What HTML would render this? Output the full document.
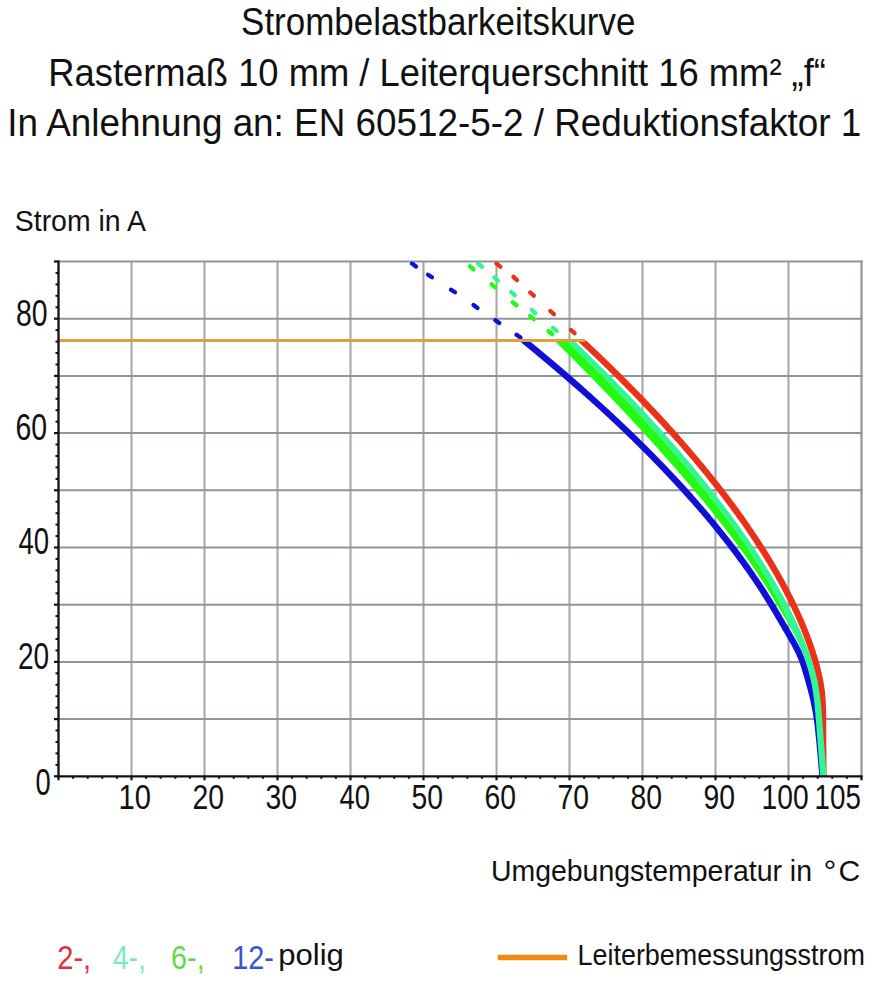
<!DOCTYPE html>
<html><head><meta charset="utf-8"><style>html,body{margin:0;padding:0;background:#fff;width:894px;height:1000px;overflow:hidden}svg{display:block}</style></head>
<body><svg width="894" height="1000" viewBox="0 0 894 1000">
<defs><clipPath id="plot2"><rect x="58.5" y="340.6" width="803.0" height="435.7"/></clipPath><clipPath id="plot"><rect x="58.5" y="261.5" width="803.0" height="514.8"/></clipPath></defs>
<rect width="894" height="1000" fill="#fff"/>
<line x1="131.5" y1="261.5" x2="131.5" y2="776.3" stroke="#a2a6a6" stroke-width="2"/><line x1="204.5" y1="261.5" x2="204.5" y2="776.3" stroke="#a2a6a6" stroke-width="2"/><line x1="277.5" y1="261.5" x2="277.5" y2="776.3" stroke="#a2a6a6" stroke-width="2"/><line x1="350.5" y1="261.5" x2="350.5" y2="776.3" stroke="#a2a6a6" stroke-width="2"/><line x1="423.5" y1="261.5" x2="423.5" y2="776.3" stroke="#a2a6a6" stroke-width="2"/><line x1="496.5" y1="261.5" x2="496.5" y2="776.3" stroke="#a2a6a6" stroke-width="2"/><line x1="569.5" y1="261.5" x2="569.5" y2="776.3" stroke="#a2a6a6" stroke-width="2"/><line x1="642.5" y1="261.5" x2="642.5" y2="776.3" stroke="#a2a6a6" stroke-width="2"/><line x1="715.5" y1="261.5" x2="715.5" y2="776.3" stroke="#a2a6a6" stroke-width="2"/><line x1="788.5" y1="261.5" x2="788.5" y2="776.3" stroke="#a2a6a6" stroke-width="2"/><line x1="861.5" y1="260.5" x2="861.5" y2="777.3" stroke="#8f9696" stroke-width="2.2"/><line x1="58.5" y1="719.1" x2="862.5" y2="719.1" stroke="#8f9696" stroke-width="2"/><line x1="58.5" y1="661.9" x2="862.5" y2="661.9" stroke="#8f9696" stroke-width="2"/><line x1="58.5" y1="604.7" x2="862.5" y2="604.7" stroke="#8f9696" stroke-width="2"/><line x1="58.5" y1="547.5" x2="862.5" y2="547.5" stroke="#8f9696" stroke-width="2"/><line x1="58.5" y1="490.3" x2="862.5" y2="490.3" stroke="#8f9696" stroke-width="2"/><line x1="58.5" y1="433.1" x2="862.5" y2="433.1" stroke="#8f9696" stroke-width="2"/><line x1="58.5" y1="375.9" x2="862.5" y2="375.9" stroke="#8f9696" stroke-width="2"/><line x1="58.5" y1="318.7" x2="862.5" y2="318.7" stroke="#8f9696" stroke-width="2"/><line x1="58.5" y1="261.5" x2="862.5" y2="261.5" stroke="#8f9696" stroke-width="2"/><g clip-path="url(#plot)"><line x1="412.0" y1="263.6" x2="416.0" y2="266.4" stroke="#0f0fd7" stroke-width="4.3" stroke-linecap="round"/><line x1="428.0" y1="274.7" x2="432.0" y2="277.3" stroke="#0f0fd7" stroke-width="4.3" stroke-linecap="round"/><line x1="451.0" y1="289.7" x2="455.0" y2="292.3" stroke="#0f0fd7" stroke-width="4.3" stroke-linecap="round"/><line x1="473.5" y1="305.1" x2="477.5" y2="307.9" stroke="#0f0fd7" stroke-width="4.3" stroke-linecap="round"/><line x1="495.3" y1="320.2" x2="499.3" y2="323.0" stroke="#0f0fd7" stroke-width="4.3" stroke-linecap="round"/><line x1="516.5" y1="334.7" x2="520.5" y2="337.5" stroke="#0f0fd7" stroke-width="4.3" stroke-linecap="round"/><line x1="470.0" y1="266.4" x2="473.6" y2="269.4" stroke="#23fa14" stroke-width="4.3" stroke-linecap="round"/><line x1="491.6" y1="284.3" x2="495.2" y2="287.3" stroke="#23fa14" stroke-width="4.3" stroke-linecap="round"/><line x1="512.7" y1="302.2" x2="516.5" y2="305.2" stroke="#23fa14" stroke-width="4.3" stroke-linecap="round"/><line x1="530.1" y1="316.1" x2="533.9" y2="319.1" stroke="#23fa14" stroke-width="4.3" stroke-linecap="round"/><line x1="548.5" y1="331.2" x2="552.3" y2="334.2" stroke="#23fa14" stroke-width="4.3" stroke-linecap="round"/><line x1="478.2" y1="263.5" x2="481.8" y2="266.7" stroke="#32f596" stroke-width="4.3" stroke-linecap="round"/><line x1="494.4" y1="277.4" x2="498.0" y2="280.6" stroke="#32f596" stroke-width="4.3" stroke-linecap="round"/><line x1="511.2" y1="292.0" x2="514.8" y2="295.2" stroke="#32f596" stroke-width="4.3" stroke-linecap="round"/><line x1="531.8" y1="309.9" x2="535.4" y2="313.1" stroke="#32f596" stroke-width="4.3" stroke-linecap="round"/><line x1="553.1" y1="327.9" x2="556.7" y2="330.9" stroke="#32f596" stroke-width="4.3" stroke-linecap="round"/><line x1="496.5" y1="263.6" x2="500.3" y2="266.6" stroke="#eb3219" stroke-width="4.3" stroke-linecap="round"/><line x1="513.4" y1="276.9" x2="517.0" y2="280.1" stroke="#eb3219" stroke-width="4.3" stroke-linecap="round"/><line x1="530.2" y1="292.5" x2="533.8" y2="295.7" stroke="#eb3219" stroke-width="4.3" stroke-linecap="round"/><line x1="550.3" y1="311.0" x2="553.9" y2="314.2" stroke="#eb3219" stroke-width="4.3" stroke-linecap="round"/><line x1="571.0" y1="330.0" x2="574.6" y2="333.2" stroke="#eb3219" stroke-width="4.3" stroke-linecap="round"/></g><g clip-path="url(#plot2)"><path d="M515.8,334.0 L518.2,336.0 L520.7,338.0 L523.2,340.0 L525.7,342.0 L528.1,344.0 L530.5,346.0 L533.0,348.0 L535.4,350.0 L537.8,352.0 L540.2,354.0 L542.6,356.0 L545.0,358.0 L547.4,360.0 L549.8,362.0 L552.2,364.0 L554.5,366.0 L556.9,368.0 L559.2,370.0 L561.6,372.0 L563.9,374.0 L566.2,376.0 L568.5,378.0 L570.8,380.0 L573.1,382.0 L575.4,384.0 L577.7,386.0 L580.0,388.0 L582.2,390.0 L584.5,392.0 L586.7,394.0 L589.0,396.0 L591.2,398.0 L593.4,400.0 L595.6,402.0 L597.8,404.0 L600.0,406.0 L602.2,408.0 L604.4,410.0 L606.6,412.0 L608.7,414.0 L610.9,416.0 L613.0,418.0 L615.1,420.0 L617.3,422.0 L619.4,424.0 L621.5,426.0 L623.6,428.0 L625.7,430.0 L627.8,432.0 L629.8,434.0 L631.9,436.0 L634.0,438.0 L636.0,440.0 L638.0,442.0 L640.1,444.0 L642.1,446.0 L644.1,448.0 L646.1,450.0 L648.1,452.0 L650.1,454.0 L652.1,456.0 L654.0,458.0 L656.0,460.0 L657.9,462.0 L659.9,464.0 L661.8,466.0 L663.7,468.0 L665.6,470.0 L667.5,472.0 L669.4,474.0 L671.3,476.0 L673.2,478.0 L675.0,480.0 L676.9,482.0 L678.7,484.0 L680.6,486.0 L682.4,488.0 L684.2,490.0 L686.0,492.0 L687.8,494.0 L689.6,496.0 L691.4,498.0 L693.2,500.0 L694.9,502.0 L696.7,504.0 L698.4,506.0 L700.1,508.0 L701.9,510.0 L703.6,512.0 L705.3,514.0 L707.0,516.0 L708.6,518.0 L710.3,520.0 L712.0,522.0 L713.6,524.0 L715.3,526.0 L716.9,528.0 L718.5,530.0 L720.1,532.0 L721.7,534.0 L723.3,536.0 L724.9,538.0 L726.5,540.0 L728.0,542.0 L729.6,544.0 L731.1,546.0 L732.7,548.0 L734.2,550.0 L735.7,552.0 L737.2,554.0 L738.7,556.0 L740.1,558.0 L741.6,560.0 L743.1,562.0 L744.5,564.0 L745.9,566.0 L747.4,568.0 L748.8,570.0 L750.2,572.0 L751.6,574.0 L752.9,576.0 L754.3,578.0 L755.7,580.0 L757.0,582.0 L758.4,584.0 L759.7,586.0 L761.0,588.0 L762.3,590.0 L763.6,592.0 L764.9,594.0 L766.1,596.0 L767.4,598.0 L768.6,600.0 L769.9,602.0 L771.1,604.0 L772.3,606.0 L773.5,608.0 L774.7,610.0 L775.9,612.0 L777.0,614.0 L778.2,616.0 L779.4,618.0 L780.5,620.0 L781.7,622.0 L782.9,624.0 L784.0,626.0 L785.2,628.0 L786.4,630.0 L787.5,632.0 L788.7,634.0 L789.9,636.0 L791.0,638.0 L792.2,640.0 L793.3,642.0 L794.4,644.0 L795.5,646.0 L796.5,648.0 L797.6,650.0 L798.5,652.0 L799.5,654.0 L800.3,656.0 L801.2,658.0 L802.0,660.0 L802.7,662.0 L803.4,664.0 L804.1,666.0 L804.7,668.0 L805.3,670.0 L805.9,672.0 L806.5,674.0 L807.1,676.0 L807.7,678.0 L808.2,680.0 L808.8,682.0 L809.3,684.0 L809.9,686.0 L810.4,688.0 L811.0,690.0 L811.5,692.0 L812.0,694.0 L812.5,696.0 L813.0,698.0 L813.5,700.0 L813.9,702.0 L814.3,704.0 L814.7,706.0 L815.1,708.0 L815.5,710.0 L815.9,712.0 L816.2,714.0 L816.5,716.0 L816.8,718.0 L817.1,720.0 L817.4,722.0 L817.6,724.0 L817.9,726.0 L818.1,728.0 L818.3,730.0 L818.5,732.0 L818.7,734.0 L818.9,736.0 L819.1,738.0 L819.3,740.0 L819.5,742.0 L819.7,744.0 L819.9,746.0 L820.0,748.0 L820.2,750.0 L820.4,752.0 L820.6,754.0 L820.7,756.0 L820.9,758.0 L821.1,760.0 L821.3,762.0 L821.4,764.0 L821.6,766.0 L821.8,768.0 L822.0,770.0 L822.1,772.0 L822.3,774.0 L822.5,776.0 L822.7,778.0 L822.8,780.0" fill="none" stroke="#0f0fd7" stroke-width="6.4"/><path d="M574.5,334.0 L576.7,336.0 L578.9,338.0 L581.0,340.0 L583.2,342.0 L585.3,344.0 L587.4,346.0 L589.5,348.0 L591.7,350.0 L593.8,352.0 L595.9,354.0 L598.0,356.0 L600.0,358.0 L602.1,360.0 L604.2,362.0 L606.3,364.0 L608.3,366.0 L610.4,368.0 L612.4,370.0 L614.4,372.0 L616.5,374.0 L618.5,376.0 L620.5,378.0 L622.5,380.0 L624.5,382.0 L626.5,384.0 L628.4,386.0 L630.4,388.0 L632.4,390.0 L634.3,392.0 L636.3,394.0 L638.2,396.0 L640.2,398.0 L642.1,400.0 L644.0,402.0 L645.9,404.0 L647.8,406.0 L649.7,408.0 L651.6,410.0 L653.5,412.0 L655.4,414.0 L657.2,416.0 L659.1,418.0 L660.9,420.0 L662.8,422.0 L664.6,424.0 L666.4,426.0 L668.2,428.0 L670.0,430.0 L671.8,432.0 L673.6,434.0 L675.4,436.0 L677.2,438.0 L679.0,440.0 L680.7,442.0 L682.5,444.0 L684.2,446.0 L685.9,448.0 L687.7,450.0 L689.4,452.0 L691.1,454.0 L692.8,456.0 L694.5,458.0 L696.2,460.0 L697.8,462.0 L699.5,464.0 L701.2,466.0 L702.8,468.0 L704.4,470.0 L706.1,472.0 L707.7,474.0 L709.3,476.0 L710.9,478.0 L712.5,480.0 L714.1,482.0 L715.7,484.0 L717.3,486.0 L718.8,488.0 L720.4,490.0 L721.9,492.0 L723.4,494.0 L725.0,496.0 L726.5,498.0 L728.0,500.0 L729.5,502.0 L731.0,504.0 L732.5,506.0 L733.9,508.0 L735.4,510.0 L736.9,512.0 L738.3,514.0 L739.7,516.0 L741.2,518.0 L742.6,520.0 L744.0,522.0 L745.4,524.0 L746.8,526.0 L748.1,528.0 L749.5,530.0 L750.9,532.0 L752.2,534.0 L753.6,536.0 L754.9,538.0 L756.2,540.0 L757.5,542.0 L758.8,544.0 L760.1,546.0 L761.4,548.0 L762.6,550.0 L763.9,552.0 L765.2,554.0 L766.4,556.0 L767.6,558.0 L768.8,560.0 L770.1,562.0 L771.3,564.0 L772.4,566.0 L773.6,568.0 L774.8,570.0 L775.9,572.0 L777.1,574.0 L778.2,576.0 L779.3,578.0 L780.4,580.0 L781.6,582.0 L782.6,584.0 L783.7,586.0 L784.8,588.0 L785.8,590.0 L786.9,592.0 L787.9,594.0 L788.9,596.0 L790.0,598.0 L791.0,600.0 L791.9,602.0 L792.9,604.0 L793.9,606.0 L794.8,608.0 L795.8,610.0 L796.7,612.0 L797.6,614.0 L798.5,616.0 L799.4,618.0 L800.3,620.0 L801.2,622.0 L802.0,624.0 L802.8,626.0 L803.7,628.0 L804.5,630.0 L805.3,632.0 L806.1,634.0 L806.8,636.0 L807.6,638.0 L808.3,640.0 L809.1,642.0 L809.8,644.0 L810.5,646.0 L811.2,648.0 L811.8,650.0 L812.5,652.0 L813.1,654.0 L813.8,656.0 L814.4,658.0 L815.0,660.0 L815.5,662.0 L816.1,664.0 L816.6,666.0 L817.2,668.0 L817.7,670.0 L818.1,672.0 L818.6,674.0 L819.0,676.0 L819.5,678.0 L819.9,680.0 L820.2,682.0 L820.6,684.0 L820.9,686.0 L821.2,688.0 L821.5,690.0 L821.7,692.0 L822.0,694.0 L822.2,696.0 L822.3,698.0 L822.5,700.0 L822.6,702.0 L822.7,704.0 L822.7,706.0 L822.8,708.0 L822.9,710.0 L822.9,712.0 L822.9,714.0 L823.0,716.0 L823.0,718.0 L823.0,720.0 L823.0,722.0 L823.0,724.0 L823.0,726.0 L823.0,728.0 L823.1,730.0 L823.1,732.0 L823.1,734.0 L823.1,736.0 L823.1,738.0 L823.1,740.0 L823.1,742.0 L823.1,744.0 L823.1,746.0 L823.2,748.0 L823.2,750.0 L823.2,752.0 L823.2,754.0 L823.2,756.0 L823.2,758.0 L823.2,760.0 L823.2,762.0 L823.2,764.0 L823.3,766.0 L823.3,768.0 L823.3,770.0 L823.3,772.0 L823.3,774.0 L823.3,776.0 L823.3,778.0 L823.3,780.0" fill="none" stroke="#eb3219" stroke-width="6.4"/><path d="M547.7,334 L548.7,335 L549.8,336 L550.8,337 L551.8,338 L552.8,339 L553.8,340 L554.8,341 L555.8,342 L556.8,343 L557.9,344 L558.9,345 L559.9,346 L560.9,347 L561.9,348 L562.9,349 L563.9,350 L564.9,351 L565.9,352 L566.9,353 L567.9,354 L568.9,355 L569.9,356 L570.9,357 L571.9,358 L572.9,359 L573.9,360 L574.9,361 L575.9,362 L576.9,363 L577.8,364 L578.8,365 L579.8,366 L580.8,367 L581.8,368 L582.8,369 L583.8,370 L584.8,371 L585.7,372 L586.7,373 L587.7,374 L588.7,375 L589.7,376 L590.6,377 L591.6,378 L592.6,379 L593.6,380 L594.5,381 L595.5,382 L596.5,383 L597.5,384 L598.4,385 L599.4,386 L600.4,387 L601.3,388 L602.3,389 L603.3,390 L604.2,391 L605.2,392 L606.1,393 L607.1,394 L608.1,395 L609.0,396 L610.0,397 L610.9,398 L611.9,399 L612.8,400 L613.8,401 L614.7,402 L615.7,403 L616.7,404 L617.6,405 L618.5,406 L619.5,407 L620.4,408 L621.4,409 L622.3,410 L623.3,411 L624.2,412 L625.2,413 L626.1,414 L627.0,415 L628.0,416 L628.9,417 L629.8,418 L630.8,419 L631.7,420 L632.6,421 L633.6,422 L634.5,423 L635.4,424 L636.3,425 L637.3,426 L638.2,427 L639.1,428 L640.0,429 L641.0,430 L641.9,431 L642.8,432 L643.7,433 L644.6,434 L645.6,435 L646.5,436 L647.4,437 L648.3,438 L649.2,439 L650.1,440 L651.0,441 L651.9,442 L652.8,443 L653.7,444 L654.6,445 L655.5,446 L656.4,447 L657.3,448 L658.2,449 L659.1,450 L660.0,451 L660.9,452 L661.8,453 L662.7,454 L663.6,455 L664.5,456 L665.4,457 L666.3,458 L667.1,459 L668.0,460 L668.9,461 L669.8,462 L670.7,463 L671.5,464 L672.4,465 L673.3,466 L674.2,467 L675.0,468 L675.9,469 L676.8,470 L677.7,471 L678.5,472 L679.4,473 L680.3,474 L681.1,475 L682.0,476 L682.8,477 L683.7,478 L684.6,479 L685.4,480 L686.3,481 L687.1,482 L688.0,483 L688.8,484 L689.7,485 L690.5,486 L691.4,487 L692.2,488 L693.0,489 L693.9,490 L694.7,491 L695.6,492 L696.4,493 L697.2,494 L698.1,495 L698.9,496 L699.7,497 L700.6,498 L701.4,499 L702.2,500 L703.0,501 L703.9,502 L704.7,503 L705.5,504 L706.3,505 L707.1,506 L707.9,507 L708.7,508 L709.6,509 L710.4,510 L711.2,511 L712.0,512 L712.8,513 L713.6,514 L714.4,515 L715.2,516 L716.0,517 L716.8,518 L717.6,519 L718.3,520 L719.1,521 L719.9,522 L720.7,523 L721.5,524 L722.3,525 L723.0,526 L723.8,527 L724.6,528 L725.4,529 L726.1,530 L726.9,531 L727.7,532 L728.4,533 L729.2,534 L730.0,535 L730.7,536 L731.5,537 L732.2,538 L733.0,539 L733.7,540 L734.5,541 L735.2,542 L736.0,543 L736.7,544 L737.5,545 L738.2,546 L738.9,547 L739.7,548 L740.4,549 L741.1,550 L741.8,551 L742.6,552 L743.3,553 L744.0,554 L744.7,555 L745.4,556 L746.1,557 L746.8,558 L747.5,559 L748.3,560 L749.0,561 L749.7,562 L750.3,563 L751.0,564 L751.7,565 L752.4,566 L753.1,567 L753.8,568 L754.5,569 L755.1,570 L755.8,571 L756.5,572 L757.2,573 L757.8,574 L758.5,575 L759.1,576 L759.8,577 L760.5,578 L761.1,579 L761.8,580 L762.4,581 L763.0,582 L763.7,583 L764.3,584 L764.9,585 L765.6,586 L766.2,587 L766.8,588 L767.4,589 L768.1,590 L768.7,591 L769.3,592 L769.9,593 L770.5,594 L771.1,595 L771.7,596 L772.3,597 L772.9,598 L773.5,599 L774.1,600 L774.6,601 L775.2,602 L775.8,603 L776.4,604 L777.0,605 L777.6,606 L778.3,607 L778.9,608 L779.5,609 L780.2,610 L780.8,611 L781.4,612 L782.0,613 L782.6,614 L783.2,615 L783.8,616 L784.4,617 L785.0,618 L785.6,619 L786.1,620 L786.7,621 L787.3,622 L787.8,623 L788.4,624 L788.9,625 L789.5,626 L790.0,627 L790.6,628 L791.1,629 L791.6,630 L792.2,631 L792.7,632 L793.2,633 L793.7,634 L794.2,635 L794.7,636 L795.2,637 L795.7,638 L796.2,639 L796.7,640 L797.2,641 L797.7,642 L798.2,643 L798.6,644 L799.1,645 L799.6,646 L800.0,647 L800.5,648 L800.9,649 L801.4,650 L801.8,651 L802.2,652 L802.5,653 L802.9,654 L803.3,655 L803.6,656 L804.0,657 L804.3,658 L804.7,659 L805.0,660 L805.3,661 L805.7,662 L806.0,663 L806.3,664 L806.6,665 L806.9,666 L807.3,667 L807.6,668 L807.8,669 L808.1,670 L808.4,671 L808.7,672 L809.0,673 L809.2,674 L809.5,675 L809.8,676 L810.0,677 L810.2,678 L810.5,679 L810.7,680 L810.9,681 L811.1,682 L811.4,683 L811.6,684 L811.8,685 L811.9,686 L812.1,687 L812.3,688 L812.5,689 L812.6,690 L812.8,691 L813.0,692 L813.1,693 L813.3,694 L813.4,695 L813.5,696 L813.7,697 L813.8,698 L813.9,699 L814.0,700 L814.1,701 L814.2,702 L814.4,703 L814.5,704 L814.6,705 L814.7,706 L814.7,707 L814.8,708 L814.9,709 L815.0,710 L815.1,711 L815.2,712 L815.3,713 L815.4,714 L815.5,715 L815.5,716 L815.6,717 L815.7,718 L815.8,719 L815.9,720 L815.9,721 L816.0,722 L816.1,723 L816.2,724 L816.3,725 L816.3,726 L816.4,727 L816.5,728 L816.6,729 L816.6,730 L816.7,731 L816.8,732 L816.9,733 L816.9,734 L817.0,735 L817.1,736 L817.2,737 L817.2,738 L817.3,739 L817.4,740 L817.5,741 L817.5,742 L817.6,743 L817.7,744 L817.8,745 L817.9,746 L817.9,747 L818.0,748 L818.1,749 L818.2,750 L818.2,751 L818.3,752 L818.4,753 L818.5,754 L818.5,755 L818.6,756 L818.7,757 L818.8,758 L818.8,759 L818.9,760 L819.0,761 L819.1,762 L819.1,763 L819.2,764 L819.3,765 L819.4,766 L819.4,767 L819.5,768 L819.6,769 L819.7,770 L819.7,771 L819.8,772 L819.9,773 L820.0,774 L820.0,775 L820.1,776 L820.2,777 L820.3,778 L820.4,779 L820.4,780 L820.4,780 L820.4,779 L820.3,778 L820.2,777 L820.1,776 L820.0,775 L820.0,774 L819.9,773 L819.8,772 L819.7,771 L819.7,770 L819.6,769 L819.5,768 L819.4,767 L819.4,766 L819.3,765 L819.2,764 L819.1,763 L819.1,762 L819.0,761 L818.9,760 L818.8,759 L818.8,758 L818.7,757 L818.6,756 L818.5,755 L818.5,754 L818.4,753 L818.3,752 L818.2,751 L818.2,750 L818.1,749 L818.0,748 L817.9,747 L817.9,746 L817.8,745 L817.7,744 L817.6,743 L817.5,742 L817.5,741 L817.4,740 L817.3,739 L817.2,738 L817.2,737 L817.1,736 L817.0,735 L816.9,734 L816.9,733 L816.8,732 L816.7,731 L816.6,730 L816.6,729 L816.5,728 L816.4,727 L816.3,726 L816.3,725 L816.2,724 L816.1,723 L816.0,722 L815.9,721 L815.9,720 L815.8,719 L815.7,718 L815.6,717 L815.5,716 L815.5,715 L815.4,714 L815.3,713 L815.2,712 L815.1,711 L815.0,710 L814.9,709 L814.8,708 L814.7,707 L814.7,706 L814.6,705 L814.5,704 L814.4,703 L814.2,702 L814.1,701 L814.0,700 L813.9,699 L813.8,698 L813.7,697 L813.5,696 L813.4,695 L813.3,694 L813.1,693 L813.0,692 L812.8,691 L812.6,690 L812.5,689 L812.3,688 L812.1,687 L811.9,686 L811.8,685 L811.6,684 L811.4,683 L811.1,682 L810.9,681 L810.7,680 L810.5,679 L810.2,678 L810.0,677 L809.8,676 L809.5,675 L809.2,674 L809.0,673 L808.7,672 L808.4,671 L808.1,670 L807.8,669 L807.6,668 L807.3,667 L806.9,666 L806.6,665 L806.3,664 L806.0,663 L805.7,662 L805.3,661 L805.0,660 L804.7,659 L804.3,658 L804.0,657 L803.6,656 L803.3,655 L802.9,654 L802.5,653 L802.2,652 L801.8,651 L801.4,650 L800.9,649 L800.5,648 L800.0,647 L799.6,646 L799.1,645 L798.6,644 L798.2,643 L797.7,642 L797.2,641 L796.7,640 L796.3,639 L795.9,638 L795.5,637 L795.1,636 L794.7,635 L794.3,634 L793.8,633 L793.4,632 L793.0,631 L792.6,630 L792.1,629 L791.7,628 L791.3,627 L790.8,626 L790.4,625 L790.0,624 L789.5,623 L789.1,622 L788.6,621 L788.2,620 L787.7,619 L787.3,618 L786.8,617 L786.4,616 L785.9,615 L785.5,614 L785.0,613 L784.5,612 L784.1,611 L783.6,610 L783.1,609 L782.7,608 L782.2,607 L781.7,606 L781.2,605 L780.8,604 L780.3,603 L779.7,602 L779.2,601 L778.7,600 L778.2,599 L777.6,598 L777.1,597 L776.5,596 L776.0,595 L775.5,594 L774.9,593 L774.4,592 L773.8,591 L773.3,590 L772.7,589 L772.2,588 L771.6,587 L771.0,586 L770.5,585 L769.9,584 L769.3,583 L768.7,582 L768.2,581 L767.6,580 L767.0,579 L766.4,578 L765.8,577 L765.2,576 L764.7,575 L764.1,574 L763.5,573 L762.9,572 L762.3,571 L761.7,570 L761.1,569 L760.5,568 L759.8,567 L759.2,566 L758.6,565 L758.0,564 L757.4,563 L756.8,562 L756.2,561 L755.5,560 L754.9,559 L754.3,558 L753.6,557 L753.0,556 L752.4,555 L751.7,554 L751.1,553 L750.5,552 L749.8,551 L749.2,550 L748.5,549 L747.9,548 L747.2,547 L746.6,546 L745.9,545 L745.2,544 L744.5,543 L743.8,542 L743.1,541 L742.4,540 L741.7,539 L741.0,538 L740.3,537 L739.6,536 L738.9,535 L738.1,534 L737.4,533 L736.7,532 L736.0,531 L735.3,530 L734.6,529 L733.8,528 L733.1,527 L732.4,526 L731.6,525 L730.9,524 L730.2,523 L729.4,522 L728.7,521 L728.0,520 L727.2,519 L726.5,518 L725.7,517 L725.0,516 L724.2,515 L723.5,514 L722.7,513 L722.0,512 L721.2,511 L720.4,510 L719.7,509 L718.9,508 L718.2,507 L717.4,506 L716.6,505 L715.8,504 L715.1,503 L714.3,502 L713.5,501 L712.7,500 L712.0,499 L711.2,498 L710.4,497 L709.6,496 L708.8,495 L708.0,494 L707.2,493 L706.5,492 L705.7,491 L704.9,490 L704.1,489 L703.3,488 L702.5,487 L701.7,486 L700.9,485 L700.1,484 L699.2,483 L698.4,482 L697.6,481 L696.8,480 L696.0,479 L695.2,478 L694.4,477 L693.5,476 L692.7,475 L691.9,474 L691.1,473 L690.2,472 L689.4,471 L688.6,470 L687.8,469 L686.9,468 L686.1,467 L685.3,466 L684.4,465 L683.6,464 L682.7,463 L681.9,462 L681.0,461 L680.2,460 L679.4,459 L678.5,458 L677.7,457 L676.8,456 L675.9,455 L675.1,454 L674.2,453 L673.4,452 L672.5,451 L671.6,450 L670.8,449 L669.9,448 L669.1,447 L668.2,446 L667.3,445 L666.4,444 L665.6,443 L664.7,442 L663.8,441 L662.9,440 L662.1,439 L661.2,438 L660.3,437 L659.4,436 L658.5,435 L657.6,434 L656.8,433 L655.8,432 L654.9,431 L654.0,430 L653.1,429 L652.2,428 L651.3,427 L650.4,426 L649.4,425 L648.5,424 L647.6,423 L646.7,422 L645.7,421 L644.8,420 L643.9,419 L643.0,418 L642.0,417 L641.1,416 L640.2,415 L639.2,414 L638.3,413 L637.3,412 L636.4,411 L635.5,410 L634.5,409 L633.6,408 L632.6,407 L631.7,406 L630.7,405 L629.8,404 L628.8,403 L627.9,402 L626.9,401 L626.0,400 L625.0,399 L624.0,398 L623.1,397 L622.1,396 L621.1,395 L620.2,394 L619.2,393 L618.2,392 L617.3,391 L616.3,390 L615.3,389 L614.4,388 L613.4,387 L612.4,386 L611.4,385 L610.4,384 L609.5,383 L608.5,382 L607.5,381 L606.5,380 L605.5,379 L604.5,378 L603.5,377 L602.6,376 L601.6,375 L600.6,374 L599.6,373 L598.6,372 L597.6,371 L596.6,370 L595.6,369 L594.6,368 L593.6,367 L592.6,366 L591.6,365 L590.5,364 L589.5,363 L588.5,362 L587.5,361 L586.5,360 L585.5,359 L584.5,358 L583.5,357 L582.4,356 L581.4,355 L580.4,354 L579.4,353 L578.3,352 L577.3,351 L576.3,350 L575.3,349 L574.2,348 L573.2,347 L572.2,346 L571.1,345 L570.1,344 L569.1,343 L568.0,342 L567.0,341 L566.0,340 L564.9,339 L563.9,338 L562.8,337 L561.8,336 L560.7,335 L559.7,334Z" fill="#23fa14"/><path d="M559.7,334 L560.7,335 L561.8,336 L562.8,337 L563.9,338 L564.9,339 L566.0,340 L567.0,341 L568.0,342 L569.1,343 L570.1,344 L571.1,345 L572.2,346 L573.2,347 L574.2,348 L575.3,349 L576.3,350 L577.3,351 L578.3,352 L579.4,353 L580.4,354 L581.4,355 L582.4,356 L583.5,357 L584.5,358 L585.5,359 L586.5,360 L587.5,361 L588.5,362 L589.5,363 L590.5,364 L591.6,365 L592.6,366 L593.6,367 L594.6,368 L595.6,369 L596.6,370 L597.6,371 L598.6,372 L599.6,373 L600.6,374 L601.6,375 L602.6,376 L603.5,377 L604.5,378 L605.5,379 L606.5,380 L607.5,381 L608.5,382 L609.5,383 L610.4,384 L611.4,385 L612.4,386 L613.4,387 L614.4,388 L615.3,389 L616.3,390 L617.3,391 L618.2,392 L619.2,393 L620.2,394 L621.1,395 L622.1,396 L623.1,397 L624.0,398 L625.0,399 L626.0,400 L626.9,401 L627.9,402 L628.8,403 L629.8,404 L630.7,405 L631.7,406 L632.6,407 L633.6,408 L634.5,409 L635.5,410 L636.4,411 L637.3,412 L638.3,413 L639.2,414 L640.2,415 L641.1,416 L642.0,417 L643.0,418 L643.9,419 L644.8,420 L645.7,421 L646.7,422 L647.6,423 L648.5,424 L649.4,425 L650.4,426 L651.3,427 L652.2,428 L653.1,429 L654.0,430 L654.9,431 L655.8,432 L656.8,433 L657.6,434 L658.5,435 L659.4,436 L660.3,437 L661.2,438 L662.1,439 L662.9,440 L663.8,441 L664.7,442 L665.6,443 L666.4,444 L667.3,445 L668.2,446 L669.1,447 L669.9,448 L670.8,449 L671.6,450 L672.5,451 L673.4,452 L674.2,453 L675.1,454 L675.9,455 L676.8,456 L677.7,457 L678.5,458 L679.4,459 L680.2,460 L681.0,461 L681.9,462 L682.7,463 L683.6,464 L684.4,465 L685.3,466 L686.1,467 L686.9,468 L687.8,469 L688.6,470 L689.4,471 L690.2,472 L691.1,473 L691.9,474 L692.7,475 L693.5,476 L694.4,477 L695.2,478 L696.0,479 L696.8,480 L697.6,481 L698.4,482 L699.2,483 L700.1,484 L700.9,485 L701.7,486 L702.5,487 L703.3,488 L704.1,489 L704.9,490 L705.7,491 L706.5,492 L707.2,493 L708.0,494 L708.8,495 L709.6,496 L710.4,497 L711.2,498 L712.0,499 L712.7,500 L713.5,501 L714.3,502 L715.1,503 L715.8,504 L716.6,505 L717.4,506 L718.2,507 L718.9,508 L719.7,509 L720.4,510 L721.2,511 L722.0,512 L722.7,513 L723.5,514 L724.2,515 L725.0,516 L725.7,517 L726.5,518 L727.2,519 L728.0,520 L728.7,521 L729.4,522 L730.2,523 L730.9,524 L731.6,525 L732.4,526 L733.1,527 L733.8,528 L734.6,529 L735.3,530 L736.0,531 L736.7,532 L737.4,533 L738.1,534 L738.9,535 L739.6,536 L740.3,537 L741.0,538 L741.7,539 L742.4,540 L743.1,541 L743.8,542 L744.5,543 L745.2,544 L745.9,545 L746.6,546 L747.2,547 L747.9,548 L748.5,549 L749.2,550 L749.8,551 L750.5,552 L751.1,553 L751.7,554 L752.4,555 L753.0,556 L753.6,557 L754.3,558 L754.9,559 L755.5,560 L756.2,561 L756.8,562 L757.4,563 L758.0,564 L758.6,565 L759.2,566 L759.8,567 L760.5,568 L761.1,569 L761.7,570 L762.3,571 L762.9,572 L763.5,573 L764.1,574 L764.7,575 L765.2,576 L765.8,577 L766.4,578 L767.0,579 L767.6,580 L768.2,581 L768.7,582 L769.3,583 L769.9,584 L770.5,585 L771.0,586 L771.6,587 L772.2,588 L772.7,589 L773.3,590 L773.8,591 L774.4,592 L774.9,593 L775.5,594 L776.0,595 L776.5,596 L777.1,597 L777.6,598 L778.2,599 L778.7,600 L779.2,601 L779.7,602 L780.3,603 L780.8,604 L781.2,605 L781.7,606 L782.2,607 L782.7,608 L783.1,609 L783.6,610 L784.1,611 L784.5,612 L785.0,613 L785.5,614 L785.9,615 L786.4,616 L786.8,617 L787.3,618 L787.7,619 L788.2,620 L788.6,621 L789.1,622 L789.5,623 L790.0,624 L790.4,625 L790.8,626 L791.3,627 L791.7,628 L792.1,629 L792.6,630 L793.0,631 L793.4,632 L793.8,633 L794.3,634 L794.7,635 L795.1,636 L795.5,637 L795.9,638 L796.3,639 L796.7,640 L797.2,641 L797.7,642 L798.2,643 L798.6,644 L799.1,645 L799.6,646 L800.0,647 L800.5,648 L800.9,649 L801.4,650 L801.8,651 L802.2,652 L802.5,653 L802.9,654 L803.3,655 L803.6,656 L804.0,657 L804.3,658 L804.7,659 L805.0,660 L805.3,661 L805.7,662 L806.0,663 L806.3,664 L806.6,665 L806.9,666 L807.3,667 L807.6,668 L807.8,669 L808.1,670 L808.4,671 L808.7,672 L809.0,673 L809.2,674 L809.5,675 L809.8,676 L810.0,677 L810.2,678 L810.5,679 L810.7,680 L810.9,681 L811.1,682 L811.4,683 L811.6,684 L811.8,685 L811.9,686 L812.1,687 L812.3,688 L812.5,689 L812.6,690 L812.8,691 L813.0,692 L813.1,693 L813.3,694 L813.4,695 L813.5,696 L813.7,697 L813.8,698 L813.9,699 L814.0,700 L814.1,701 L814.2,702 L814.4,703 L814.5,704 L814.6,705 L814.7,706 L814.7,707 L814.8,708 L814.9,709 L815.0,710 L815.1,711 L815.2,712 L815.3,713 L815.4,714 L815.5,715 L815.5,716 L815.6,717 L815.7,718 L815.8,719 L815.9,720 L815.9,721 L816.0,722 L816.1,723 L816.2,724 L816.3,725 L816.3,726 L816.4,727 L816.5,728 L816.6,729 L816.6,730 L816.7,731 L816.8,732 L816.9,733 L816.9,734 L817.0,735 L817.1,736 L817.2,737 L817.2,738 L817.3,739 L817.4,740 L817.5,741 L817.5,742 L817.6,743 L817.7,744 L817.8,745 L817.9,746 L817.9,747 L818.0,748 L818.1,749 L818.2,750 L818.2,751 L818.3,752 L818.4,753 L818.5,754 L818.5,755 L818.6,756 L818.7,757 L818.8,758 L818.8,759 L818.9,760 L819.0,761 L819.1,762 L819.1,763 L819.2,764 L819.3,765 L819.4,766 L819.4,767 L819.5,768 L819.6,769 L819.7,770 L819.7,771 L819.8,772 L819.9,773 L820.0,774 L820.0,775 L820.1,776 L820.2,777 L820.3,778 L820.4,779 L820.4,780 L826.8,780 L826.8,779 L826.7,778 L826.6,777 L826.5,776 L826.5,775 L826.4,774 L826.3,773 L826.2,772 L826.2,771 L826.1,770 L826.0,769 L825.9,768 L825.9,767 L825.8,766 L825.7,765 L825.6,764 L825.6,763 L825.5,762 L825.4,761 L825.3,760 L825.3,759 L825.2,758 L825.1,757 L825.0,756 L825.0,755 L824.9,754 L824.8,753 L824.7,752 L824.6,751 L824.6,750 L824.5,749 L824.4,748 L824.3,747 L824.3,746 L824.2,745 L824.1,744 L824.0,743 L824.0,742 L823.9,741 L823.8,740 L823.7,739 L823.7,738 L823.6,737 L823.5,736 L823.4,735 L823.4,734 L823.3,733 L823.2,732 L823.1,731 L823.1,730 L823.0,729 L822.9,728 L822.8,727 L822.7,726 L822.7,725 L822.6,724 L822.5,723 L822.4,722 L822.4,721 L822.3,720 L822.2,719 L822.1,718 L822.0,717 L822.0,716 L821.9,715 L821.8,714 L821.7,713 L821.6,712 L821.5,711 L821.4,710 L821.4,709 L821.3,708 L821.2,707 L821.1,706 L821.0,705 L820.9,704 L820.8,703 L820.7,702 L820.6,701 L820.5,700 L820.3,699 L820.2,698 L820.1,697 L820.0,696 L819.9,695 L819.7,694 L819.6,693 L819.4,692 L819.3,691 L819.1,690 L819.0,689 L818.8,688 L818.6,687 L818.5,686 L818.3,685 L818.1,684 L817.9,683 L817.7,682 L817.5,681 L817.3,680 L817.0,679 L816.8,678 L816.6,677 L816.3,676 L816.1,675 L815.8,674 L815.6,673 L815.3,672 L815.1,671 L814.8,670 L814.5,669 L814.2,668 L813.9,667 L813.6,666 L813.3,665 L813.0,664 L812.7,663 L812.4,662 L812.1,661 L811.8,660 L811.4,659 L811.1,658 L810.7,657 L810.4,656 L810.1,655 L809.7,654 L809.3,653 L809.0,652 L808.6,651 L808.2,650 L807.9,649 L807.5,648 L807.1,647 L806.7,646 L806.3,645 L805.9,644 L805.5,643 L805.1,642 L804.7,641 L804.3,640 L803.9,639 L803.5,638 L803.1,637 L802.6,636 L802.2,635 L801.8,634 L801.4,633 L800.9,632 L800.5,631 L800.0,630 L799.6,629 L799.1,628 L798.7,627 L798.2,626 L797.8,625 L797.3,624 L796.8,623 L796.4,622 L795.9,621 L795.4,620 L794.9,619 L794.4,618 L794.0,617 L793.5,616 L793.0,615 L792.5,614 L792.0,613 L791.5,612 L791.0,611 L790.5,610 L790.0,609 L789.5,608 L788.9,607 L788.4,606 L787.9,605 L787.4,604 L786.9,603 L786.3,602 L785.8,601 L785.3,600 L784.7,599 L784.2,598 L783.6,597 L783.1,596 L782.6,595 L782.0,594 L781.4,593 L780.9,592 L780.3,591 L779.8,590 L779.2,589 L778.6,588 L778.1,587 L777.5,586 L776.9,585 L776.4,584 L775.8,583 L775.2,582 L774.6,581 L774.0,580 L773.4,579 L772.8,578 L772.2,577 L771.6,576 L771.0,575 L770.4,574 L769.8,573 L769.2,572 L768.6,571 L768.0,570 L767.4,569 L766.8,568 L766.2,567 L765.5,566 L764.9,565 L764.3,564 L763.7,563 L763.0,562 L762.4,561 L761.8,560 L761.1,559 L760.5,558 L759.8,557 L759.2,556 L758.5,555 L757.9,554 L757.2,553 L756.6,552 L755.9,551 L755.3,550 L754.6,549 L753.9,548 L753.3,547 L752.6,546 L751.9,545 L751.3,544 L750.6,543 L749.9,542 L749.2,541 L748.5,540 L747.9,539 L747.2,538 L746.5,537 L745.8,536 L745.1,535 L744.4,534 L743.7,533 L743.0,532 L742.3,531 L741.6,530 L740.9,529 L740.2,528 L739.5,527 L738.8,526 L738.1,525 L737.3,524 L736.6,523 L735.9,522 L735.2,521 L734.5,520 L733.7,519 L733.0,518 L732.3,517 L731.5,516 L730.8,515 L730.1,514 L729.3,513 L728.6,512 L727.8,511 L727.1,510 L726.3,509 L725.6,508 L724.8,507 L724.1,506 L723.3,505 L722.6,504 L721.8,503 L721.0,502 L720.3,501 L719.5,500 L718.7,499 L718.0,498 L717.2,497 L716.4,496 L715.6,495 L714.9,494 L714.1,493 L713.3,492 L712.5,491 L711.7,490 L710.9,489 L710.2,488 L709.4,487 L708.6,486 L707.8,485 L707.0,484 L706.2,483 L705.4,482 L704.6,481 L703.8,480 L703.0,479 L702.1,478 L701.3,477 L700.5,476 L699.7,475 L698.9,474 L698.1,473 L697.2,472 L696.4,471 L695.6,470 L694.8,469 L693.9,468 L693.1,467 L692.3,466 L691.4,465 L690.6,464 L689.8,463 L688.9,462 L688.1,461 L687.2,460 L686.4,459 L685.6,458 L684.7,457 L683.9,456 L683.0,455 L682.1,454 L681.3,453 L680.4,452 L679.6,451 L678.7,450 L677.8,449 L677.0,448 L676.1,447 L675.2,446 L674.4,445 L673.5,444 L672.6,443 L671.7,442 L670.9,441 L670.0,440 L669.1,439 L668.2,438 L667.3,437 L666.4,436 L665.6,435 L664.7,434 L663.8,433 L662.9,432 L662.0,431 L661.1,430 L660.2,429 L659.3,428 L658.4,427 L657.5,426 L656.6,425 L655.7,424 L654.7,423 L653.8,422 L652.9,421 L652.0,420 L651.1,419 L650.2,418 L649.2,417 L648.3,416 L647.4,415 L646.5,414 L645.5,413 L644.6,412 L643.7,411 L642.8,410 L641.8,409 L640.9,408 L639.9,407 L639.0,406 L638.1,405 L637.1,404 L636.2,403 L635.2,402 L634.3,401 L633.3,400 L632.4,399 L631.4,398 L630.5,397 L629.5,396 L628.6,395 L627.6,394 L626.6,393 L625.7,392 L624.7,391 L623.7,390 L622.8,389 L621.8,388 L620.8,387 L619.9,386 L618.9,385 L617.9,384 L616.9,383 L615.9,382 L615.0,381 L614.0,380 L613.0,379 L612.0,378 L611.0,377 L610.0,376 L609.0,375 L608.1,374 L607.1,373 L606.1,372 L605.1,371 L604.1,370 L603.1,369 L602.1,368 L601.1,367 L600.0,366 L599.0,365 L598.0,364 L597.0,363 L596.0,362 L595.0,361 L594.0,360 L593.0,359 L591.9,358 L590.9,357 L589.9,356 L588.9,355 L587.9,354 L586.8,353 L585.8,352 L584.8,351 L583.7,350 L582.7,349 L581.7,348 L580.6,347 L579.6,346 L578.6,345 L577.5,344 L576.5,343 L575.4,342 L574.4,341 L573.3,340 L572.3,339 L571.2,338 L570.2,337 L569.1,336 L568.1,335 L567.0,334Z" fill="#32f596"/></g><line x1="58.5" y1="340.5" x2="585" y2="340.5" stroke="#e0a03c" stroke-width="3.2"/><line x1="58.5" y1="260.5" x2="58.5" y2="777.5" stroke="#111" stroke-width="2.3"/><line x1="57.3" y1="776.3" x2="862.5" y2="776.3" stroke="#111" stroke-width="2.3"/><line x1="54.0" y1="776.3" x2="58.5" y2="776.3" stroke="#111" stroke-width="2.2"/><line x1="55.5" y1="764.9" x2="58.5" y2="764.9" stroke="#111" stroke-width="2"/><line x1="55.5" y1="753.4" x2="58.5" y2="753.4" stroke="#111" stroke-width="2"/><line x1="55.5" y1="742.0" x2="58.5" y2="742.0" stroke="#111" stroke-width="2"/><line x1="55.5" y1="730.5" x2="58.5" y2="730.5" stroke="#111" stroke-width="2"/><line x1="54.0" y1="719.1" x2="58.5" y2="719.1" stroke="#111" stroke-width="2.2"/><line x1="55.5" y1="707.7" x2="58.5" y2="707.7" stroke="#111" stroke-width="2"/><line x1="55.5" y1="696.2" x2="58.5" y2="696.2" stroke="#111" stroke-width="2"/><line x1="55.5" y1="684.8" x2="58.5" y2="684.8" stroke="#111" stroke-width="2"/><line x1="55.5" y1="673.3" x2="58.5" y2="673.3" stroke="#111" stroke-width="2"/><line x1="54.0" y1="661.9" x2="58.5" y2="661.9" stroke="#111" stroke-width="2.2"/><line x1="55.5" y1="650.5" x2="58.5" y2="650.5" stroke="#111" stroke-width="2"/><line x1="55.5" y1="639.0" x2="58.5" y2="639.0" stroke="#111" stroke-width="2"/><line x1="55.5" y1="627.6" x2="58.5" y2="627.6" stroke="#111" stroke-width="2"/><line x1="55.5" y1="616.1" x2="58.5" y2="616.1" stroke="#111" stroke-width="2"/><line x1="54.0" y1="604.7" x2="58.5" y2="604.7" stroke="#111" stroke-width="2.2"/><line x1="55.5" y1="593.3" x2="58.5" y2="593.3" stroke="#111" stroke-width="2"/><line x1="55.5" y1="581.8" x2="58.5" y2="581.8" stroke="#111" stroke-width="2"/><line x1="55.5" y1="570.4" x2="58.5" y2="570.4" stroke="#111" stroke-width="2"/><line x1="55.5" y1="558.9" x2="58.5" y2="558.9" stroke="#111" stroke-width="2"/><line x1="54.0" y1="547.5" x2="58.5" y2="547.5" stroke="#111" stroke-width="2.2"/><line x1="55.5" y1="536.1" x2="58.5" y2="536.1" stroke="#111" stroke-width="2"/><line x1="55.5" y1="524.6" x2="58.5" y2="524.6" stroke="#111" stroke-width="2"/><line x1="55.5" y1="513.2" x2="58.5" y2="513.2" stroke="#111" stroke-width="2"/><line x1="55.5" y1="501.7" x2="58.5" y2="501.7" stroke="#111" stroke-width="2"/><line x1="54.0" y1="490.3" x2="58.5" y2="490.3" stroke="#111" stroke-width="2.2"/><line x1="55.5" y1="478.9" x2="58.5" y2="478.9" stroke="#111" stroke-width="2"/><line x1="55.5" y1="467.4" x2="58.5" y2="467.4" stroke="#111" stroke-width="2"/><line x1="55.5" y1="456.0" x2="58.5" y2="456.0" stroke="#111" stroke-width="2"/><line x1="55.5" y1="444.5" x2="58.5" y2="444.5" stroke="#111" stroke-width="2"/><line x1="54.0" y1="433.1" x2="58.5" y2="433.1" stroke="#111" stroke-width="2.2"/><line x1="55.5" y1="421.7" x2="58.5" y2="421.7" stroke="#111" stroke-width="2"/><line x1="55.5" y1="410.2" x2="58.5" y2="410.2" stroke="#111" stroke-width="2"/><line x1="55.5" y1="398.8" x2="58.5" y2="398.8" stroke="#111" stroke-width="2"/><line x1="55.5" y1="387.3" x2="58.5" y2="387.3" stroke="#111" stroke-width="2"/><line x1="54.0" y1="375.9" x2="58.5" y2="375.9" stroke="#111" stroke-width="2.2"/><line x1="55.5" y1="364.5" x2="58.5" y2="364.5" stroke="#111" stroke-width="2"/><line x1="55.5" y1="353.0" x2="58.5" y2="353.0" stroke="#111" stroke-width="2"/><line x1="55.5" y1="341.6" x2="58.5" y2="341.6" stroke="#111" stroke-width="2"/><line x1="55.5" y1="330.1" x2="58.5" y2="330.1" stroke="#111" stroke-width="2"/><line x1="54.0" y1="318.7" x2="58.5" y2="318.7" stroke="#111" stroke-width="2.2"/><line x1="55.5" y1="307.3" x2="58.5" y2="307.3" stroke="#111" stroke-width="2"/><line x1="55.5" y1="295.8" x2="58.5" y2="295.8" stroke="#111" stroke-width="2"/><line x1="55.5" y1="284.4" x2="58.5" y2="284.4" stroke="#111" stroke-width="2"/><line x1="55.5" y1="272.9" x2="58.5" y2="272.9" stroke="#111" stroke-width="2"/><line x1="54.0" y1="261.5" x2="58.5" y2="261.5" stroke="#111" stroke-width="2.2"/><line x1="58.5" y1="776.3" x2="58.5" y2="780.3" stroke="#111" stroke-width="2.2"/><line x1="73.1" y1="776.3" x2="73.1" y2="778.8" stroke="#111" stroke-width="2"/><line x1="87.7" y1="776.3" x2="87.7" y2="778.8" stroke="#111" stroke-width="2"/><line x1="102.3" y1="776.3" x2="102.3" y2="778.8" stroke="#111" stroke-width="2"/><line x1="116.9" y1="776.3" x2="116.9" y2="778.8" stroke="#111" stroke-width="2"/><line x1="131.5" y1="776.3" x2="131.5" y2="780.3" stroke="#111" stroke-width="2.2"/><line x1="146.1" y1="776.3" x2="146.1" y2="778.8" stroke="#111" stroke-width="2"/><line x1="160.7" y1="776.3" x2="160.7" y2="778.8" stroke="#111" stroke-width="2"/><line x1="175.3" y1="776.3" x2="175.3" y2="778.8" stroke="#111" stroke-width="2"/><line x1="189.9" y1="776.3" x2="189.9" y2="778.8" stroke="#111" stroke-width="2"/><line x1="204.5" y1="776.3" x2="204.5" y2="780.3" stroke="#111" stroke-width="2.2"/><line x1="219.1" y1="776.3" x2="219.1" y2="778.8" stroke="#111" stroke-width="2"/><line x1="233.7" y1="776.3" x2="233.7" y2="778.8" stroke="#111" stroke-width="2"/><line x1="248.3" y1="776.3" x2="248.3" y2="778.8" stroke="#111" stroke-width="2"/><line x1="262.9" y1="776.3" x2="262.9" y2="778.8" stroke="#111" stroke-width="2"/><line x1="277.5" y1="776.3" x2="277.5" y2="780.3" stroke="#111" stroke-width="2.2"/><line x1="292.1" y1="776.3" x2="292.1" y2="778.8" stroke="#111" stroke-width="2"/><line x1="306.7" y1="776.3" x2="306.7" y2="778.8" stroke="#111" stroke-width="2"/><line x1="321.3" y1="776.3" x2="321.3" y2="778.8" stroke="#111" stroke-width="2"/><line x1="335.9" y1="776.3" x2="335.9" y2="778.8" stroke="#111" stroke-width="2"/><line x1="350.5" y1="776.3" x2="350.5" y2="780.3" stroke="#111" stroke-width="2.2"/><line x1="365.1" y1="776.3" x2="365.1" y2="778.8" stroke="#111" stroke-width="2"/><line x1="379.7" y1="776.3" x2="379.7" y2="778.8" stroke="#111" stroke-width="2"/><line x1="394.3" y1="776.3" x2="394.3" y2="778.8" stroke="#111" stroke-width="2"/><line x1="408.9" y1="776.3" x2="408.9" y2="778.8" stroke="#111" stroke-width="2"/><line x1="423.5" y1="776.3" x2="423.5" y2="780.3" stroke="#111" stroke-width="2.2"/><line x1="438.1" y1="776.3" x2="438.1" y2="778.8" stroke="#111" stroke-width="2"/><line x1="452.7" y1="776.3" x2="452.7" y2="778.8" stroke="#111" stroke-width="2"/><line x1="467.3" y1="776.3" x2="467.3" y2="778.8" stroke="#111" stroke-width="2"/><line x1="481.9" y1="776.3" x2="481.9" y2="778.8" stroke="#111" stroke-width="2"/><line x1="496.5" y1="776.3" x2="496.5" y2="780.3" stroke="#111" stroke-width="2.2"/><line x1="511.1" y1="776.3" x2="511.1" y2="778.8" stroke="#111" stroke-width="2"/><line x1="525.7" y1="776.3" x2="525.7" y2="778.8" stroke="#111" stroke-width="2"/><line x1="540.3" y1="776.3" x2="540.3" y2="778.8" stroke="#111" stroke-width="2"/><line x1="554.9" y1="776.3" x2="554.9" y2="778.8" stroke="#111" stroke-width="2"/><line x1="569.5" y1="776.3" x2="569.5" y2="780.3" stroke="#111" stroke-width="2.2"/><line x1="584.1" y1="776.3" x2="584.1" y2="778.8" stroke="#111" stroke-width="2"/><line x1="598.7" y1="776.3" x2="598.7" y2="778.8" stroke="#111" stroke-width="2"/><line x1="613.3" y1="776.3" x2="613.3" y2="778.8" stroke="#111" stroke-width="2"/><line x1="627.9" y1="776.3" x2="627.9" y2="778.8" stroke="#111" stroke-width="2"/><line x1="642.5" y1="776.3" x2="642.5" y2="780.3" stroke="#111" stroke-width="2.2"/><line x1="657.1" y1="776.3" x2="657.1" y2="778.8" stroke="#111" stroke-width="2"/><line x1="671.7" y1="776.3" x2="671.7" y2="778.8" stroke="#111" stroke-width="2"/><line x1="686.3" y1="776.3" x2="686.3" y2="778.8" stroke="#111" stroke-width="2"/><line x1="700.9" y1="776.3" x2="700.9" y2="778.8" stroke="#111" stroke-width="2"/><line x1="715.5" y1="776.3" x2="715.5" y2="780.3" stroke="#111" stroke-width="2.2"/><line x1="730.1" y1="776.3" x2="730.1" y2="778.8" stroke="#111" stroke-width="2"/><line x1="744.7" y1="776.3" x2="744.7" y2="778.8" stroke="#111" stroke-width="2"/><line x1="759.3" y1="776.3" x2="759.3" y2="778.8" stroke="#111" stroke-width="2"/><line x1="773.9" y1="776.3" x2="773.9" y2="778.8" stroke="#111" stroke-width="2"/><line x1="788.5" y1="776.3" x2="788.5" y2="780.3" stroke="#111" stroke-width="2.2"/><line x1="803.1" y1="776.3" x2="803.1" y2="778.8" stroke="#111" stroke-width="2"/><line x1="817.7" y1="776.3" x2="817.7" y2="778.8" stroke="#111" stroke-width="2"/><line x1="832.3" y1="776.3" x2="832.3" y2="778.8" stroke="#111" stroke-width="2"/><line x1="846.9" y1="776.3" x2="846.9" y2="778.8" stroke="#111" stroke-width="2"/><line x1="861.5" y1="776.3" x2="861.5" y2="780.3" stroke="#111" stroke-width="2.2"/><text x="241.1" y="34.5" font-size="38" fill="#111" text-anchor="start" textLength="394.3" lengthAdjust="spacingAndGlyphs" style="font-family:'Liberation Sans',sans-serif">Strombelastbarkeitskurve</text><text x="48.3" y="85.5" font-size="38" fill="#111" text-anchor="start" textLength="777.6" lengthAdjust="spacingAndGlyphs" style="font-family:'Liberation Sans',sans-serif">Rastermaß 10 mm / Leiterquerschnitt 16 mm² „f“</text><text x="7.3" y="135.7" font-size="38" fill="#111" text-anchor="start" textLength="854.0" lengthAdjust="spacingAndGlyphs" style="font-family:'Liberation Sans',sans-serif">In Anlehnung an: EN 60512-5-2 / Reduktionsfaktor 1</text><text x="14.8" y="230.8" font-size="30" fill="#111" text-anchor="start" textLength="131.1" lengthAdjust="spacingAndGlyphs" style="font-family:'Liberation Sans',sans-serif">Strom in A</text><text x="15.9" y="326.0" font-size="36" fill="#111" text-anchor="start" textLength="31.6" lengthAdjust="spacingAndGlyphs" style="font-family:'Liberation Sans',sans-serif">80</text><text x="15.5" y="440.2" font-size="36" fill="#111" text-anchor="start" textLength="31.6" lengthAdjust="spacingAndGlyphs" style="font-family:'Liberation Sans',sans-serif">60</text><text x="18.4" y="554.0" font-size="36" fill="#111" text-anchor="start" textLength="30.7" lengthAdjust="spacingAndGlyphs" style="font-family:'Liberation Sans',sans-serif">40</text><text x="17.9" y="669.2" font-size="36" fill="#111" text-anchor="start" textLength="31.2" lengthAdjust="spacingAndGlyphs" style="font-family:'Liberation Sans',sans-serif">20</text><text x="35.5" y="794.5" font-size="36" fill="#111" text-anchor="start" textLength="15.2" lengthAdjust="spacingAndGlyphs" style="font-family:'Liberation Sans',sans-serif">0</text><text x="118.6" y="808.6" font-size="34.5" fill="#111" text-anchor="start" textLength="32.4" lengthAdjust="spacingAndGlyphs" style="font-family:'Liberation Sans',sans-serif">10</text><text x="192.5" y="808.6" font-size="34.5" fill="#111" text-anchor="start" textLength="31.5" lengthAdjust="spacingAndGlyphs" style="font-family:'Liberation Sans',sans-serif">20</text><text x="265.5" y="808.6" font-size="34.5" fill="#111" text-anchor="start" textLength="31.5" lengthAdjust="spacingAndGlyphs" style="font-family:'Liberation Sans',sans-serif">30</text><text x="339.4" y="808.6" font-size="34.5" fill="#111" text-anchor="start" textLength="30.6" lengthAdjust="spacingAndGlyphs" style="font-family:'Liberation Sans',sans-serif">40</text><text x="411.5" y="808.6" font-size="34.5" fill="#111" text-anchor="start" textLength="31.5" lengthAdjust="spacingAndGlyphs" style="font-family:'Liberation Sans',sans-serif">50</text><text x="484.5" y="808.6" font-size="34.5" fill="#111" text-anchor="start" textLength="31.5" lengthAdjust="spacingAndGlyphs" style="font-family:'Liberation Sans',sans-serif">60</text><text x="557.5" y="808.6" font-size="34.5" fill="#111" text-anchor="start" textLength="31.5" lengthAdjust="spacingAndGlyphs" style="font-family:'Liberation Sans',sans-serif">70</text><text x="630.5" y="808.6" font-size="34.5" fill="#111" text-anchor="start" textLength="31.5" lengthAdjust="spacingAndGlyphs" style="font-family:'Liberation Sans',sans-serif">80</text><text x="703.5" y="808.6" font-size="34.5" fill="#111" text-anchor="start" textLength="31.5" lengthAdjust="spacingAndGlyphs" style="font-family:'Liberation Sans',sans-serif">90</text><text x="761.6" y="808.6" font-size="34.5" fill="#111" text-anchor="start" textLength="47.0" lengthAdjust="spacingAndGlyphs" style="font-family:'Liberation Sans',sans-serif">100</text><text x="814.6" y="808.6" font-size="34.5" fill="#111" text-anchor="start" textLength="46.3" lengthAdjust="spacingAndGlyphs" style="font-family:'Liberation Sans',sans-serif">105</text><text x="490.9" y="880.8" font-size="30" fill="#111" text-anchor="start" textLength="321.1" lengthAdjust="spacingAndGlyphs" style="font-family:'Liberation Sans',sans-serif">Umgebungstemperatur in</text><text x="823.5" y="880.8" font-size="30" fill="#111" text-anchor="start" textLength="12.9" lengthAdjust="spacingAndGlyphs" style="font-family:'Liberation Sans',sans-serif">°</text><text x="838.5" y="880.8" font-size="30" fill="#111" text-anchor="start" textLength="21.7" lengthAdjust="spacingAndGlyphs" style="font-family:'Liberation Sans',sans-serif">C</text><text x="57.2" y="968.6" font-size="32.5" fill="#e0303c" text-anchor="start" textLength="34.0" lengthAdjust="spacingAndGlyphs" style="font-family:'Liberation Sans',sans-serif">2-,</text><text x="112.7" y="968.6" font-size="32.5" fill="#7ee6cc" text-anchor="start" textLength="33.1" lengthAdjust="spacingAndGlyphs" style="font-family:'Liberation Sans',sans-serif">4-,</text><text x="171.1" y="968.6" font-size="32.5" fill="#62d84a" text-anchor="start" textLength="33.6" lengthAdjust="spacingAndGlyphs" style="font-family:'Liberation Sans',sans-serif">6-,</text><text x="232.2" y="968.6" font-size="32.5" fill="#3a55cc" text-anchor="start" textLength="41.7" lengthAdjust="spacingAndGlyphs" style="font-family:'Liberation Sans',sans-serif">12-</text><text x="278.3" y="965.1" font-size="30" fill="#111" text-anchor="start" textLength="65.5" lengthAdjust="spacingAndGlyphs" style="font-family:'Liberation Sans',sans-serif">polig</text><text x="577.5" y="965.1" font-size="30" fill="#111" text-anchor="start" textLength="287.4" lengthAdjust="spacingAndGlyphs" style="font-family:'Liberation Sans',sans-serif">Leiterbemessungsstrom</text><line x1="497.8" y1="957.4" x2="567.2" y2="957.4" stroke="#f58714" stroke-width="5.5"/>
</svg></body></html>
